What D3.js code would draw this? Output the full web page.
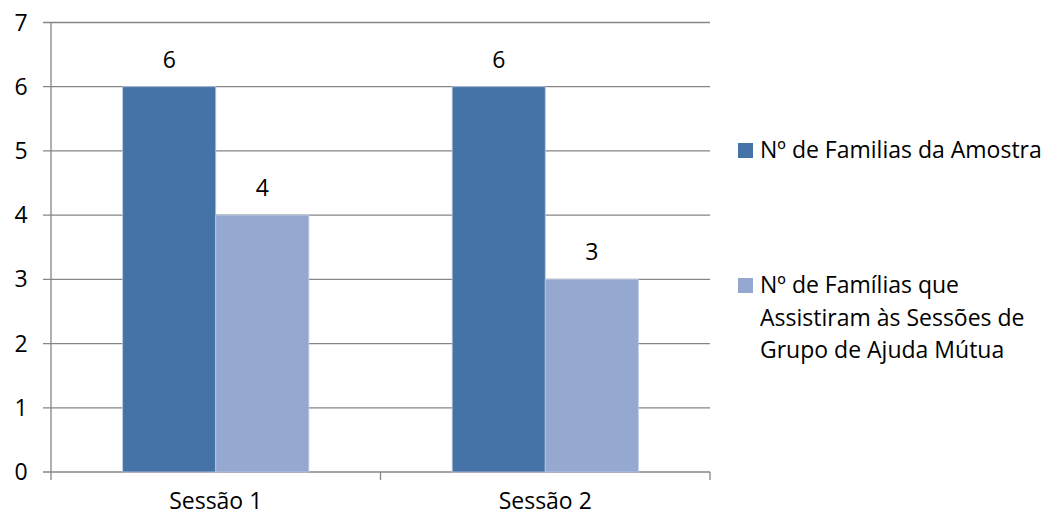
<!DOCTYPE html>
<html>
<head>
<meta charset="utf-8">
<script src="https://cdn.jsdelivr.net/npm/d3@7"></script>
<style>
  body { margin: 0; background: #fff; }
  text { font-family: "Open Sans", Lato, sans-serif; fill: #000; }
</style>
</head>
<body>
<script>
const categories = ["Sessão 1", "Sessão 2"];
const seriesNames = ["Nº de Familias da Amostra", "Nº de Famílias que Assistiram às Sessões de Grupo de Ajuda Mútua"];
const amostra = [6, 6];
const assistiram = [4, 3];
const yTicks = [0, 1, 2, 3, 4, 5, 6, 7];
const colors = ["#4673A7", "#95A9D0"];

const width = 1049, height = 517;
const plotLeft = 51, plotRight = 710, plotTop = 22.5, plotBottom = 472;
const fontSize = "23px";

const svg = d3.select("body").append("svg")
    .attr("width", width)
    .attr("height", height);

const y = d3.scaleLinear().domain([0, 7]).range([plotBottom, plotTop]);
const x0 = d3.scaleBand().domain(categories).range([plotLeft, plotRight]);
const x1 = d3.scaleBand().domain([0, 1])
    .range([0, x0.bandwidth()]).paddingOuter(0.77).paddingInner(0);

// gridlines
svg.append("g").selectAll("line").data(yTicks).join("line")
    .attr("x1", plotLeft - 8).attr("x2", plotRight)
    .attr("y1", d => y(d)).attr("y2", d => y(d))
    .attr("stroke", "#868686").attr("stroke-width", 1.3);

// y labels
svg.append("g").selectAll("text").data(yTicks).join("text")
    .attr("x", 21).attr("y", d => y(d) + 8)
    .attr("text-anchor", "middle")
    .style("font-size", fontSize)
    .text(d => d);

const rows = categories.map((c, i) => ({ cat: c, vals: [amostra[i], assistiram[i]] }));

const groups = svg.append("g").selectAll("g").data(rows).join("g")
    .attr("transform", d => `translate(${x0(d.cat)},0)`);

groups.selectAll("rect").data(d => d.vals).join("rect")
    .attr("x", (d, i) => x1(i))
    .attr("width", x1.bandwidth())
    .attr("y", d => y(d))
    .attr("height", d => y(0) - y(d))
    .attr("fill", (d, i) => colors[i])
    .attr("stroke", "#B9C9E3").attr("stroke-width", 0.8);

groups.selectAll("text").data(d => d.vals).join("text")
    .attr("x", (d, i) => x1(i) + x1.bandwidth() / 2)
    .attr("y", d => y(d) - 19)
    .attr("text-anchor", "middle")
    .style("font-size", fontSize)
    .text(d => d);

// axes lines
svg.append("line")
    .attr("x1", plotLeft).attr("x2", plotLeft).attr("y1", plotTop).attr("y2", plotBottom + 8)
    .attr("stroke", "#868686").attr("stroke-width", 1.3);

const catEdges = categories.map(c => x0(c) + x0.bandwidth());
svg.append("g").selectAll("line").data(catEdges).join("line")
    .attr("x1", d => d).attr("x2", d => d)
    .attr("y1", plotBottom).attr("y2", plotBottom + 8)
    .attr("stroke", "#868686").attr("stroke-width", 1.3);

svg.append("g").selectAll("text").data(categories).join("text")
    .attr("x", d => x0(d) + x0.bandwidth() / 2)
    .attr("y", 509)
    .attr("text-anchor", "middle")
    .style("font-size", fontSize)
    .text(d => d);

// legend
const legendLines = [["Nº de Familias da Amostra"], ["Nº de Famílias que", "Assistiram às Sessões de", "Grupo de Ajuda Mútua"]];
const legendY = [150, 285];
const leg = svg.append("g").selectAll("g").data(legendLines).join("g")
    .attr("transform", (d, i) => `translate(738,${legendY[i]})`);
leg.append("rect")
    .attr("x", 0).attr("y", -7).attr("width", 15).attr("height", 15)
    .attr("fill", (d, i) => colors[i]);
leg.selectAll("text").data(d => d).join("text")
    .attr("x", 22).attr("y", (d, j) => 8 + j * 32.5)
    .style("font-size", fontSize)
    .text(d => d);
</script>
</body>
</html>
